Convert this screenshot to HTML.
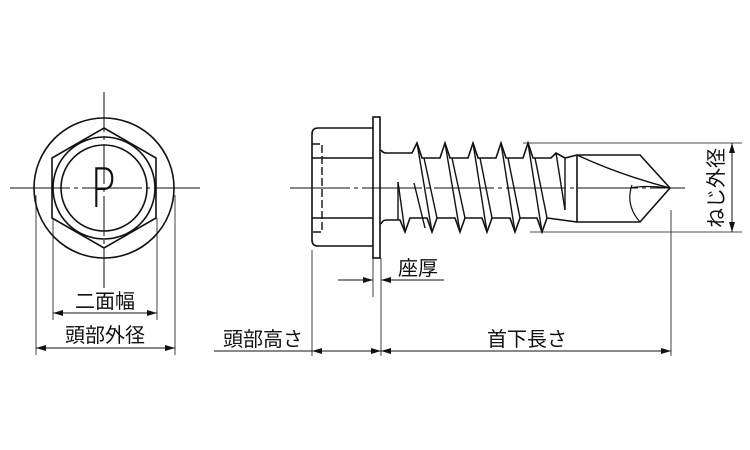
<!DOCTYPE html>
<html><head><meta charset="utf-8"><style>
html,body{margin:0;padding:0;background:#fff;}
svg{display:block}
text{font-family:"Liberation Sans","Noto Sans CJK JP",sans-serif;fill:#111}
</style></head><body>
<svg width="750" height="450" viewBox="0 0 750 450" xmlns="http://www.w3.org/2000/svg">
<defs>
<marker id="a" viewBox="0 0 10 6" refX="10" refY="3" markerWidth="10" markerHeight="6" orient="auto-start-reverse" markerUnits="userSpaceOnUse"><path d="M0,0L10,3L0,6z" fill="#111"/></marker>
</defs>
<g stroke="#111" fill="none">
<line x1="10" y1="188" x2="200" y2="188" stroke-width="1" stroke-dasharray="60,4,4,4"/>
<line x1="104" y1="92" x2="104" y2="290" stroke-width="1" stroke-dasharray="40,4,4,4"/>
<circle cx="104" cy="188" r="70" stroke-width="1.6"/>
<polygon points="104,128 156,158 156,218 104,248 52,218 52,158" stroke-width="1.6"/>
<circle cx="104" cy="188" r="51" stroke-width="1.6"/>
<circle cx="104" cy="188" r="43" stroke-width="1.6"/>
<line x1="53" y1="218" x2="53" y2="320" stroke-width="0.8"/>
<line x1="157" y1="218" x2="157" y2="320" stroke-width="0.8"/>
<line x1="36" y1="195" x2="36" y2="355" stroke-width="0.8"/>
<line x1="175" y1="195" x2="175" y2="355" stroke-width="0.8"/>
<line x1="53" y1="313" x2="157" y2="313" stroke-width="1" marker-start="url(#a)" marker-end="url(#a)"/>
<line x1="36" y1="348" x2="175" y2="348" stroke-width="1" marker-start="url(#a)" marker-end="url(#a)"/>

<line x1="290" y1="188" x2="685" y2="188" stroke-width="1" stroke-dasharray="60,4,4,4"/>
<path d="M373,128 L318,128 Q312,128 312,134 L312,240 Q312,246 318,246 L373,246" stroke-width="1.6"/>
<line x1="312" y1="158" x2="373" y2="158" stroke-width="1.6"/>
<line x1="312" y1="218" x2="373" y2="218" stroke-width="1.6"/>
<path d="M312,144 L322,144 L322,232 L312,232" stroke-width="1.4" stroke-dasharray="8,3"/>
<rect x="373" y="117" width="7" height="141" stroke-width="1.6"/>
<path d="M381,150 Q383,153 386,153 L412,153 L417,143 L422,158 L440,158 L445,143 L450,158 L468,158 L473,143 L478,158 L496,158 L501,143 L506,158 L523,158 L528,143 L533,158 L551,158 L556,153 L565,158 L577,155" stroke-width="1.6"/>
<path d="M381,224 Q383,220 386,220 L400,220 L405,232 L410,218 L427,218 L432,232 L437,218 L455,218 L460,232 L465,218 L482,218 L487,232 L492,218 L510,218 L515,232 L520,218 L537,218 L542,232 L547,218 L577,222" stroke-width="1.6"/>
<g stroke-width="1.4">
<line x1="398" y1="182" x2="398" y2="220"/><line x1="398" y1="182" x2="405" y2="232"/>
<line x1="414" y1="183" x2="425" y2="228"/>
<line x1="417" y1="143" x2="432" y2="232"/><line x1="424" y1="158" x2="437" y2="218"/>
<line x1="445" y1="143" x2="460" y2="232"/><line x1="452" y1="158" x2="465" y2="218"/>
<line x1="473" y1="143" x2="487" y2="232"/><line x1="480" y1="158" x2="492" y2="218"/>
<line x1="501" y1="143" x2="515" y2="232"/><line x1="508" y1="158" x2="520" y2="218"/>
<line x1="528" y1="143" x2="542" y2="232"/><line x1="535" y1="158" x2="547" y2="218"/>
<line x1="556" y1="153" x2="565" y2="210"/><line x1="565" y1="158" x2="565" y2="210"/>
</g>
<path d="M577,155 L640,155 L670,188 L640,222 L577,222 Z" stroke-width="1.6"/>
<path d="M577,155 Q620,175 670,188" stroke-width="1.4"/>
<path d="M670,188 Q645,185 630,188" stroke-width="1.2"/>
<path d="M632,185 Q625,205 640,222" stroke-width="1.2"/>
<line x1="523" y1="143" x2="742" y2="143" stroke-width="0.8"/>
<line x1="530" y1="232" x2="742" y2="232" stroke-width="0.8"/>
<line x1="732" y1="143" x2="732" y2="232" stroke-width="1" marker-start="url(#a)" marker-end="url(#a)"/>
<line x1="671" y1="210" x2="671" y2="356" stroke-width="0.8"/>
<line x1="312" y1="250" x2="312" y2="356" stroke-width="0.8"/>
<line x1="381" y1="258" x2="381" y2="356" stroke-width="0.8"/>
<line x1="373" y1="258" x2="373" y2="297" stroke-width="0.8"/>
<line x1="338" y1="280" x2="373" y2="280" stroke-width="1" marker-end="url(#a)"/>
<line x1="444" y1="280" x2="381" y2="280" stroke-width="1" marker-end="url(#a)"/>
<line x1="214" y1="351" x2="312" y2="351" stroke-width="1"/>
<line x1="312" y1="351" x2="381" y2="351" stroke-width="1" marker-start="url(#a)" marker-end="url(#a)"/>
<line x1="381" y1="351" x2="671" y2="351" stroke-width="1" marker-start="url(#a)" marker-end="url(#a)"/>
</g>
<text x="103" y="207" font-size="54" text-anchor="middle" textLength="26" lengthAdjust="spacingAndGlyphs" style="font-family:'DejaVu Sans',sans-serif;font-weight:200">P</text>
<text x="105" y="308" font-size="20" text-anchor="middle">二面幅</text>
<text x="105" y="342" font-size="20" text-anchor="middle">頭部外径</text>
<text x="263" y="346" font-size="20" text-anchor="middle">頭部高さ</text>
<text x="527" y="346" font-size="20" text-anchor="middle">首下長さ</text>
<text x="418" y="275" font-size="20" text-anchor="middle">座厚</text>
<text transform="translate(723,188) rotate(-90)" font-size="20" text-anchor="middle">ねじ外径</text>
</svg>
</body></html>
